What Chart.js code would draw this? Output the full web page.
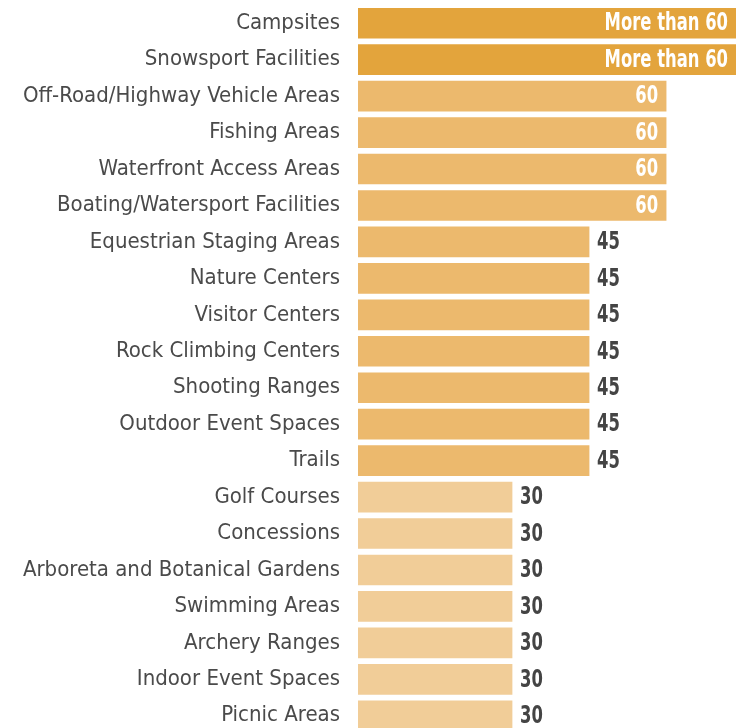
<!DOCTYPE html>
<html>
<head>
<meta charset="utf-8">
<script src="https://cdn.jsdelivr.net/npm/chart.js@4"></script>
<style>
  html, body { margin: 0; padding: 0; background: #fff; overflow: hidden; }
  #wrap { width: 738px; height: 742px; }
</style>
</head>
<body>
<div id="wrap"><canvas id="myChart" width="738" height="742"></canvas></div>
<script>
// Chart data ------------------------------------------>

const categories = [
  'Campsites', 'Snowsport Facilities', 'Off-Road/Highway Vehicle Areas', 'Fishing Areas',
  'Waterfront Access Areas', 'Boating/Watersport Facilities', 'Equestrian Staging Areas',
  'Nature Centers', 'Visitor Centers', 'Rock Climbing Centers', 'Shooting Ranges',
  'Outdoor Event Spaces', 'Trails', 'Golf Courses', 'Concessions',
  'Arboreta and Botanical Gardens', 'Swimming Areas', 'Archery Ranges',
  'Indoor Event Spaces', 'Picnic Areas'
];
// "More than 60" is drawn as a bar running off the right edge
const values = [74, 74, 60, 60, 60, 60, 45, 45, 45, 45, 45, 45, 45, 30, 30, 30, 30, 30, 30, 30];
const valueLabels = ['More than 60', 'More than 60', '60', '60', '60', '60',
  '45', '45', '45', '45', '45', '45', '45', '30', '30', '30', '30', '30', '30', '30'];

const FONT = "'Liberation Sans Narrow', 'DejaVu Sans Condensed', 'Roboto', sans-serif";

function barColor(v) {
  if (v > 60) return '#E3A43C';
  if (v >= 45) return '#ECB96D';
  return '#F1CD98';
}

// value labels: inside the bar (white) for 60+, outside (dark) for the rest
// squeezed horizontally to look like a condensed bold face
const SQUEEZE = 0.76;
const barLabels = {
  id: 'barLabels',
  afterDatasetsDraw(chart) {
    const c = chart.ctx;
    const meta = chart.getDatasetMeta(0);
    meta.data.forEach((bar, i) => {
      const v = values[i];
      const right = Math.min(bar.x, chart.chartArea.right);
      c.save();
      c.font = 'bold 24px ' + FONT;
      c.textBaseline = 'middle';
      if (v >= 60) {
        c.fillStyle = '#ffffff';
        c.textAlign = 'right';
        c.translate((v > 60 ? 736 : right) - 8, bar.y + 1);
      } else {
        c.fillStyle = '#444444';
        c.textAlign = 'left';
        c.translate(right + 8, bar.y + 1);
      }
      c.scale(SQUEEZE, 1);
      c.fillText(valueLabels[i], 0, 0);
      c.restore();
    });
  }
};

const ctx = document.getElementById('myChart');

new Chart(ctx, {
  type: 'bar',
  data: {
    labels: categories,
    datasets: [{
      data: values,
      backgroundColor: values.map(barColor),
      borderWidth: 0,
      barThickness: 30,
    }]
  },
  plugins: [barLabels],
  options: {
    indexAxis: 'y',
    responsive: false,
    animation: false,
    layout: { autoPadding: false, padding: { top: 5, bottom: 8, right: 0, left: 0 } },
    plugins: {
      legend: { display: false },
      tooltip: { enabled: false }
    },
    scales: {
      x: {
        display: false,
        min: 0,
        max: 74,
      },
      y: {
        afterFit(scale) {
          scale.width = 358;
          scale.paddingTop = 0;
          scale.paddingBottom = 0;
        },
        border: { display: false },
        grid: { display: false, drawTicks: false },
        ticks: {
          color: '#4a4a4a',
          padding: 18,
          font: { family: FONT, size: 22 },
        }
      }
    }
  }
});
</script>
</body>
</html>
